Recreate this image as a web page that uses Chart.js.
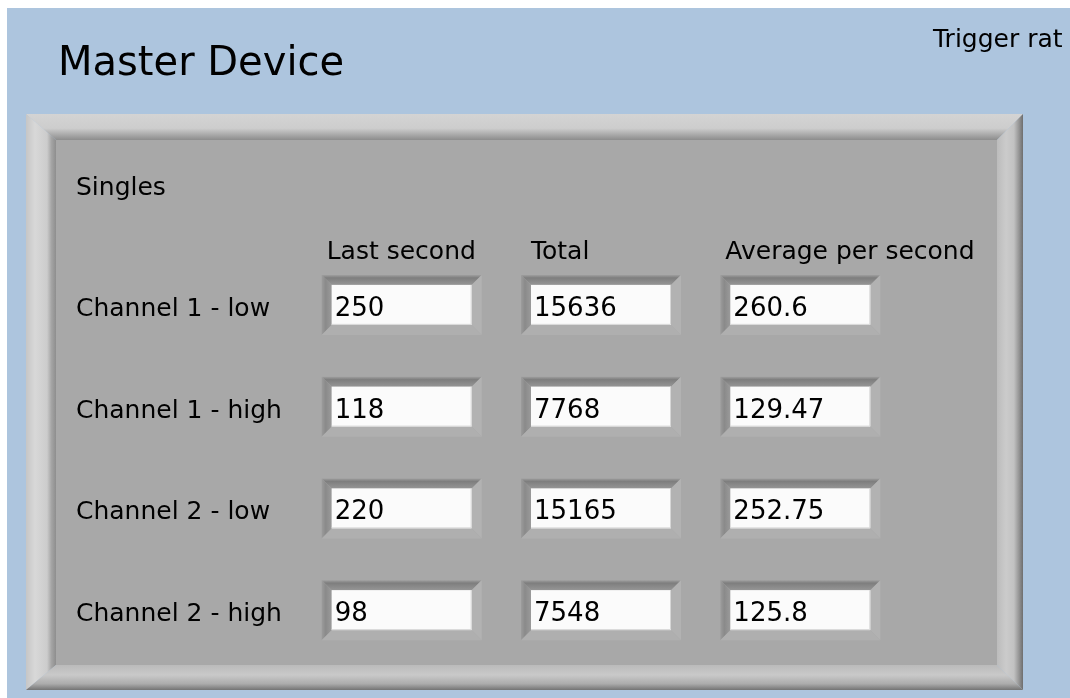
<!DOCTYPE html>
<html lang="en">
<head>
  <meta charset="UTF-8" />
  <title>Master Device</title>
  <script src="https://cdn.jsdelivr.net/npm/chart.js"></script>
  <style>
    body { margin: 0; background: #fff; }
    canvas { display: block; }
  </style>
</head>
<body>
  <canvas id="panel" width="1070" height="698"></canvas>

  <script>
    // values
    const channels = ["Channel 1 - low", "Channel 1 - high", "Channel 2 - low", "Channel 2 - high"];
    const columns = ["Last second", "Total", "Average per second"];
    const lastSecond = [250, 118, 220, 98];
    const total = [15636, 7768, 15165, 7548];
    const avgPerSecond = [260.6, 129.47, 252.75, 125.8];

    const FONT = '"DejaVu Sans", Verdana, sans-serif';

    function toPoints(col, values) {
      return values.map((v, i) => ({ x: col, y: channels[i], v: v }));
    }

    function quad(c, pts, grad) {
      c.beginPath();
      c.moveTo(pts[0][0], pts[0][1]);
      for (let i = 1; i < pts.length; i++) c.lineTo(pts[i][0], pts[i][1]);
      c.closePath();
      c.fillStyle = grad;
      c.fill();
    }

    function gradient(c, x0, y0, x1, y1, stops) {
      const g = c.createLinearGradient(x0, y0, x1, y1);
      stops.forEach(s => g.addColorStop(s[0], s[1]));
      return g;
    }

    // raised LabVIEW style frame
    function drawFrame(c, O, I) {
      c.fillStyle = "#a8a8a8";
      c.fillRect(I.l, I.t, I.r - I.l, I.b - I.t);
      quad(c, [[O.l, O.t], [O.r, O.t], [I.r, I.t], [I.l, I.t]],
        gradient(c, 0, O.t, 0, I.t, [[0, "#d4d4d4"], [0.55, "#cdcdcd"], [0.75, "#b0b0b0"], [1, "#8c8c8c"]]));
      quad(c, [[O.l, O.t], [I.l, I.t], [I.l, I.b], [O.l, O.b]],
        gradient(c, O.l, 0, I.l, 0, [[0, "#c6c6c6"], [0.3, "#d8d8d8"], [0.7, "#cccccc"], [0.85, "#a4a4a4"], [1, "#8e8e8e"]]));
      quad(c, [[O.r, O.t], [O.r, O.b], [I.r, I.b], [I.r, I.t]],
        gradient(c, I.r, 0, O.r, 0, [[0, "#bcbcbc"], [0.35, "#cbcbcb"], [0.65, "#c2c2c2"], [0.85, "#949494"], [1, "#6e6e6e"]]));
      quad(c, [[O.l, O.b], [I.l, I.b], [I.r, I.b], [O.r, O.b]],
        gradient(c, 0, I.b, 0, O.b, [[0, "#bababa"], [0.4, "#c9c9c9"], [0.75, "#acacac"], [1, "#747474"]]));
    }

    // sunken numeric indicator centred on a data point
    function drawField(c, cx, cy, value) {
      const O = { l: cx - 80, t: cy - 30, r: cx + 80, b: cy + 30 };
      const I = { l: cx - 70, t: cy - 20, r: cx + 70, b: cy + 20 };
      quad(c, [[O.l, O.t], [O.r, O.t], [I.r, I.t], [I.l, I.t]],
        gradient(c, 0, O.t, 0, I.t, [[0, "#a0a0a0"], [0.3, "#7e7e7e"], [1, "#959595"]]));
      quad(c, [[O.l, O.t], [I.l, I.t], [I.l, I.b], [O.l, O.b]],
        gradient(c, O.l, 0, I.l, 0, [[0, "#9c9c9c"], [0.4, "#8a8a8a"], [1, "#9a9a9a"]]));
      quad(c, [[O.r, O.t], [O.r, O.b], [I.r, I.b], [I.r, I.t]], "#b2b2b2");
      quad(c, [[O.l, O.b], [I.l, I.b], [I.r, I.b], [O.r, O.b]], "#afafaf");
      c.fillStyle = "#fbfbfb";
      c.fillRect(I.l, I.t, I.r - I.l, I.b - I.t);
      c.strokeStyle = "#d6d6d6";
      c.lineWidth = 1;
      c.beginPath();
      c.moveTo(I.r - 0.5, I.t);
      c.lineTo(I.r - 0.5, I.b - 0.5);
      c.lineTo(I.l, I.b - 0.5);
      c.stroke();
      c.fillStyle = "#000";
      c.font = "26px " + FONT;
      c.textAlign = "left";
      c.textBaseline = "alphabetic";
      c.fillText(String(value), I.l + 3, cy + 11);
    }

    const panelPlugin = {
      id: "panel",
      beforeDraw(chart) {
        const c = chart.ctx;
        const xs = chart.scales.x;
        const ys = chart.scales.y;
        c.save();
        c.fillStyle = "#fff";
        c.fillRect(0, 0, chart.width, chart.height);
        c.fillStyle = "#adc5de";
        c.fillRect(7, 8, chart.width - 7, chart.height - 8);

        drawFrame(c, { l: 26, t: 114, r: 1023, b: 690 }, { l: 56, t: 140, r: 997, b: 665 });

        c.fillStyle = "#000";
        c.textAlign = "left";
        c.textBaseline = "alphabetic";
        c.font = "40px " + FONT;
        c.fillText("Master Device", 58, 75);
        c.font = "25px " + FONT;
        c.fillText("Trigger rat", 933, 47);
        c.fillText("Singles", 76, 195);

        const firstRow = ys.getPixelForValue(0);
        columns.forEach((label, i) => {
          c.fillText(label, xs.getPixelForValue(i) - 75 + (i === 1 ? 5 : 0), firstRow - 46);
        });
        channels.forEach((label, i) => {
          c.fillText(label, 76, ys.getPixelForValue(i) + 11);
        });
        c.restore();
      },
      afterDatasetsDraw(chart) {
        const c = chart.ctx;
        c.save();
        chart.data.datasets.forEach((ds, di) => {
          chart.getDatasetMeta(di).data.forEach((pt, i) => {
            drawField(c, pt.x, pt.y, ds.data[i].v);
          });
        });
        c.restore();
      }
    };

    const ctx = document.getElementById("panel").getContext("2d");
    new Chart(ctx, {
      type: "scatter",
      data: {
        datasets: [
          { label: columns[0], data: toPoints(columns[0], lastSecond) },
          { label: columns[1], data: toPoints(columns[1], total) },
          { label: columns[2], data: toPoints(columns[2], avgPerSecond) }
        ]
      },
      options: {
        responsive: false,
        devicePixelRatio: 1,
        animation: false,
        layout: { padding: { left: 302, right: 170, top: 254, bottom: 37 } },
        elements: { point: { radius: 0, hoverRadius: 0 } },
        plugins: { legend: { display: false }, tooltip: { enabled: false } },
        events: [],
        scales: {
          x: { type: "category", labels: columns, offset: true, display: false },
          y: { type: "category", labels: channels, offset: true, display: false }
        }
      },
      plugins: [panelPlugin]
    });
  </script>
</body>
</html>
